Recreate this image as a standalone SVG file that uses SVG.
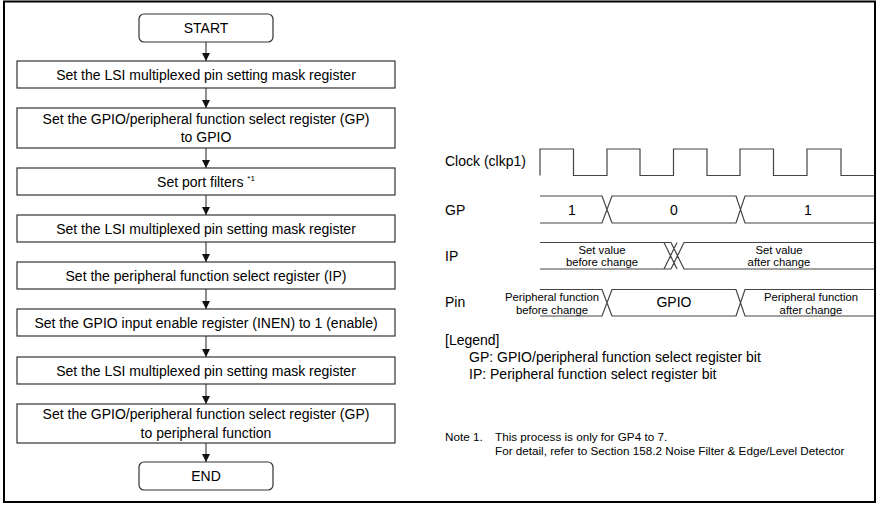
<svg xmlns="http://www.w3.org/2000/svg" width="880" height="507" viewBox="0 0 880 507">
<defs>
<style>
text{font-family:"Liberation Sans",Arial,sans-serif;fill:#000}
.ft{font-size:14px;text-anchor:middle}
.box{fill:#fff;stroke:#333;stroke-width:1.2}
.conn{stroke:#444;stroke-width:1.2;fill:none}
.wave{stroke:#444;stroke-width:1.2;fill:none}
.lbl{font-size:14px}
.sm{font-size:11.3px;text-anchor:middle}
.val{font-size:14px;text-anchor:middle}
.note{font-size:11.7px}
</style>
<marker id="arr" markerWidth="8" markerHeight="8" viewBox="0 0 8 8" refX="8" refY="4" orient="auto" markerUnits="userSpaceOnUse">
<path d="M0,0 L8,4 L0,8 Z" fill="#111"/>
</marker>
</defs>
<rect x="4" y="1.5" width="871" height="500.5" fill="#fff" stroke="#000" stroke-width="2"/>

<g id="connectors">
<line class="conn" x1="206" y1="42" x2="206" y2="61" marker-end="url(#arr)"/>
<line class="conn" x1="206" y1="88" x2="206" y2="108" marker-end="url(#arr)"/>
<line class="conn" x1="206" y1="148" x2="206" y2="168" marker-end="url(#arr)"/>
<line class="conn" x1="206" y1="195" x2="206" y2="215" marker-end="url(#arr)"/>
<line class="conn" x1="206" y1="242" x2="206" y2="262" marker-end="url(#arr)"/>
<line class="conn" x1="206" y1="289" x2="206" y2="309" marker-end="url(#arr)"/>
<line class="conn" x1="206" y1="336" x2="206" y2="357" marker-end="url(#arr)"/>
<line class="conn" x1="206" y1="384" x2="206" y2="404" marker-end="url(#arr)"/>
<line class="conn" x1="206" y1="443" x2="206" y2="462" marker-end="url(#arr)"/>
</g>

<g id="start">
<rect class="box" x="139" y="14" width="134" height="28" rx="5"/>
<text class="ft" x="206" y="33">START</text>
</g>
<g id="step1">
<rect class="box" x="17" y="61" width="378" height="27"/>
<text class="ft" x="206" y="79.5">Set the LSI multiplexed pin setting mask register</text>
</g>
<g id="step2">
<rect class="box" x="17" y="108" width="378" height="40"/>
<text class="ft" x="206" y="124">Set the GPIO/peripheral function select register (GP)</text>
<text class="ft" x="206" y="142">to GPIO</text>
</g>
<g id="step3">
<rect class="box" x="17" y="168" width="378" height="27"/>
<text class="ft" x="206" y="187">Set port filters <tspan font-size="8" dy="-6">*1</tspan></text>
</g>
<g id="step4">
<rect class="box" x="17" y="215" width="378" height="27"/>
<text class="ft" x="206" y="233.5">Set the LSI multiplexed pin setting mask register</text>
</g>
<g id="step5">
<rect class="box" x="17" y="262" width="378" height="27"/>
<text class="ft" x="206" y="280.5">Set the peripheral function select register (IP)</text>
</g>
<g id="step6">
<rect class="box" x="17" y="309" width="378" height="27"/>
<text class="ft" x="206" y="327.5">Set the GPIO input enable register (INEN) to 1 (enable)</text>
</g>
<g id="step7">
<rect class="box" x="17" y="357" width="378" height="27"/>
<text class="ft" x="206" y="375.5">Set the LSI multiplexed pin setting mask register</text>
</g>
<g id="step8">
<rect class="box" x="17" y="404" width="378" height="39"/>
<text class="ft" x="206" y="419">Set the GPIO/peripheral function select register (GP)</text>
<text class="ft" x="206" y="437.5">to peripheral function</text>
</g>
<g id="end">
<rect class="box" x="139" y="462" width="134" height="28" rx="5"/>
<text class="ft" x="206" y="481">END</text>
</g>

<g id="timing">
<text class="lbl" x="445" y="166">Clock (clkp1)</text>
<text class="lbl" x="445" y="215">GP</text>
<text class="lbl" x="445" y="261">IP</text>
<text class="lbl" x="445" y="307">Pin</text>

<path class="wave" d="M540,175.5 V149 H573.5 V175.5 H607 V149 H640 V175.5 H673.5 V149 H707 V175.5 H740 V149 H773.5 V175.5 H807 V149 H841 V175.5 H874"/>

<path class="wave" d="M540,196 H602 L612,223 M540,223 H602 L612,196 H736 L745,223 H874 M612,223 H736 L745,196 H874"/>
<text class="val" x="572" y="215">1</text>
<text class="val" x="674" y="215">0</text>
<text class="val" x="808" y="215">1</text>

<path class="wave" d="M540,242.5 H664 L677,269 M540,269 H664 L677,242.5 M671,242.5 L684,269 H874 M671,269 L684,242.5 H874 M664,242.5 H671 M664,269 H671"/>
<text class="sm" x="602" y="254">Set value</text>
<text class="sm" x="602" y="266">before change</text>
<text class="sm" x="779" y="254">Set value</text>
<text class="sm" x="779" y="266">after change</text>

<path class="wave" d="M540,289.5 H602 L612,316 M540,316 H602 L612,289.5 H736 L745,316 H874 M612,316 H736 L745,289.5 H874"/>
<text class="sm" x="552" y="301">Peripheral function</text>
<text class="sm" x="552" y="313.5">before change</text>
<text class="val" x="674" y="307">GPIO</text>
<text class="sm" x="811" y="301">Peripheral function</text>
<text class="sm" x="811" y="313.5">after change</text>
</g>

<g id="legend">
<text class="lbl" x="445" y="345">[Legend]</text>
<text class="lbl" x="469" y="362">GP: GPIO/peripheral function select register bit</text>
<text class="lbl" x="469" y="379">IP: Peripheral function select register bit</text>
</g>
<g id="notes">
<text class="note" x="445" y="441">Note 1.</text>
<text class="note" x="495" y="441">This process is only for GP4 to 7.</text>
<text class="note" x="495" y="455">For detail, refer to Section 158.2 Noise Filter &amp; Edge/Level Detector</text>
</g>
</svg>
